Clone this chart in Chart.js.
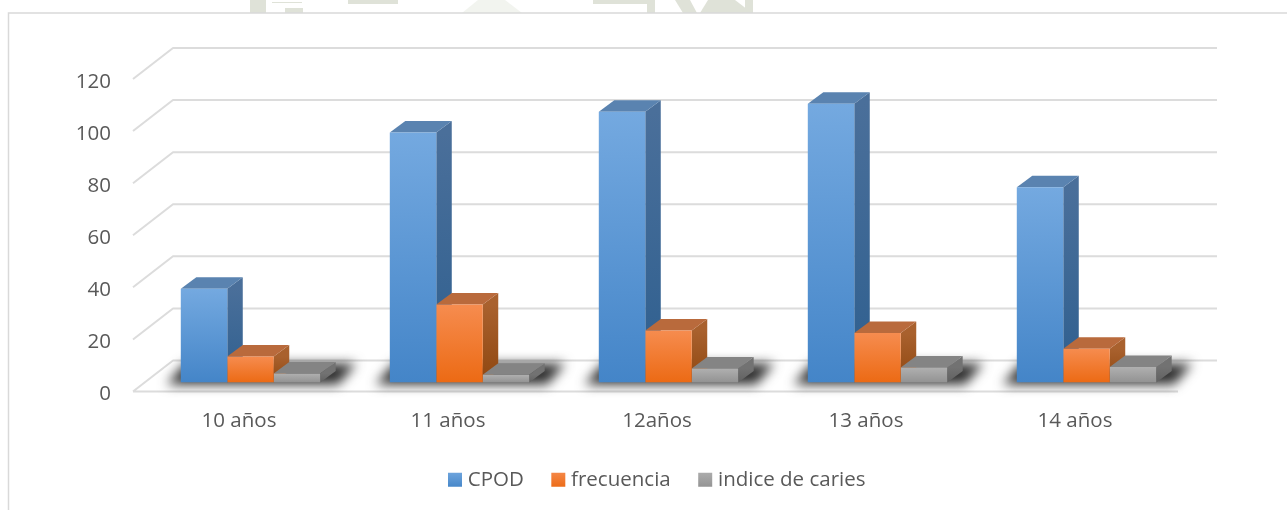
<!DOCTYPE html>
<html><head><meta charset="utf-8">
<script src="https://cdn.jsdelivr.net/npm/chart.js@4"></script>
<style>html,body{margin:0;padding:0;background:#fff}canvas{display:block;filter:blur(0.35px)}</style>
</head><body><canvas id="c" width="1287" height="510"></canvas>
<script>
const categories = ['10 años','11 años','12años','13 años','14 años'];
const cpod = [36,96,104,107,75];
const frecuencia = [10,30,20,19,13];
const indiceCaries = [3.5,3,5.4,5.8,6];
const yTicks = [0,20,40,60,80,100,120];
const seriesNames = ['CPOD','frecuencia','indice de caries'];
const FONT = {family:'"Open Sans"', size:20.5};
const TEXT = '#595959', GRID = '#dcdcdc';
const DX = 15.5, DY = -11.5;           // bar depth
const PALETTE = [
 {hi:'#74a9e0',lo:'#4485c8',top:'#5a83b0',sideHi:'#4a6f9a',sideLo:'#2e5f8f'},
 {hi:'#f68c4f',lo:'#ec6a14',top:'#b96a3c',sideHi:'#a9612e',sideLo:'#8f4710'},
 {hi:'#b0b0b0',lo:'#929292',top:'#848484',sideHi:'#727272',sideLo:'#606060'}
];
function frontFill(i){
  return c=>{
    const y=c.chart.scales&&c.chart.scales.y;
    if(!y||c.raw==null) return PALETTE[i].lo;
    const g=c.chart.ctx.createLinearGradient(0,y.getPixelForValue(c.raw),0,y.getPixelForValue(0));
    g.addColorStop(0,PALETTE[i].hi);g.addColorStop(1,PALETTE[i].lo);return g;
  };
}
const scene3d = {
  id:'scene3d',
  afterLayout(ch){ch.legend.left+=28.5;ch.legend.right+=28.5;},
  beforeDraw(ch){
    const {ctx,width,height}=ch;
    ctx.save();
    ctx.fillStyle='#fff';ctx.fillRect(0,0,width,height);
    // faint page watermark showing above the chart frame
    ctx.fillStyle='#dfe2d8';
    [[250,0,16,13],[272,2,30,1],[285,8,18,5],[348,0,50,4],[593,0,54,4],[647,0,8,13]].forEach(r=>ctx.fillRect(...r));
    ctx.beginPath();ctx.moveTo(675,0);ctx.lineTo(690,0);ctx.lineTo(697,13);ctx.lineTo(683,13);ctx.closePath();ctx.fill();
    ctx.beginPath();ctx.moveTo(700,13);ctx.lineTo(708,0);ctx.lineTo(735,0);ctx.lineTo(752,13);ctx.closePath();ctx.fill();
    ctx.fillRect(745,0,8,13);
    ctx.fillStyle='#f2f4ef';
    ctx.beginPath();ctx.moveTo(462,13);ctx.lineTo(478,0);ctx.lineTo(505,0);ctx.lineTo(522,13);ctx.closePath();ctx.fill();
    ctx.fillStyle='#fff';ctx.fillRect(8,13,width-8,height-13);
    ctx.strokeStyle='#d9d9d9';ctx.lineWidth=1.5;
    ctx.beginPath();ctx.moveTo(width,13);ctx.lineTo(8.5,13);ctx.lineTo(8.5,height);ctx.stroke();
    ctx.restore();
  },
  beforeDatasetsDraw(ch){
    const {ctx,scales:{x,y}}=ch;
    // wall and floor grid, from the value scale
    const fx0=133,fx1=1178,bx0=173,bx1=1217;
    ctx.save();
    ctx.strokeStyle=GRID;ctx.lineWidth=2;ctx.lineJoin='round';
    yTicks.forEach(v=>{
      const py=y.getPixelForValue(v);
      ctx.beginPath();ctx.moveTo(fx0,py+9);ctx.lineTo(bx0,py-22);ctx.lineTo(bx1,py-22);
      if(v===0){ctx.moveTo(fx0,py+9);ctx.lineTo(fx1,py+9);}
      ctx.stroke();
    });
    // floor shadow under each group
    const metas=[0,1,2].map(i=>ch.getDatasetMeta(i));
    ctx.filter='blur(6px)';
    ctx.fillStyle='#2e2e2e';
    categories.forEach((_,k)=>{
      const l=metas[0].data[k].x-metas[0].data[k].width/2;
      const r=metas[2].data[k].x+metas[2].data[k].width/2;
      const b=y.getPixelForValue(0);
      ctx.beginPath();ctx.moveTo(l-14,b+2);ctx.lineTo(l+4,b-19);ctx.lineTo(r+36,b-19);ctx.lineTo(r+18,b+2);ctx.closePath();ctx.fill();
    });
    ctx.filter='none';
    // depth faces; native fronts are painted over them afterwards
    metas.forEach((m,i)=>{
      const p=PALETTE[i];
      m.data.forEach(el=>{
        const l=el.x-el.width/2,r=el.x+el.width/2,t=el.y,b=el.base;
        const sg=ctx.createLinearGradient(0,t,0,b);
        sg.addColorStop(0,p.sideHi);sg.addColorStop(1,p.sideLo);
        ctx.fillStyle=sg;
        ctx.beginPath();ctx.moveTo(r,t);ctx.lineTo(r+DX,t+DY);ctx.lineTo(r+DX,b+DY);ctx.lineTo(r,b);ctx.closePath();ctx.fill();
        ctx.fillStyle=p.top;
        ctx.beginPath();ctx.moveTo(l,t);ctx.lineTo(l+DX,t+DY);ctx.lineTo(r+DX,t+DY);ctx.lineTo(r,t);ctx.closePath();ctx.fill();
      });
    });
    ctx.restore();
  }
};
const cv=document.getElementById('c');
const legendGrad=i=>{
  const g=cv.getContext('2d').createLinearGradient(0,470,0,488);
  g.addColorStop(0,PALETTE[i].hi);g.addColorStop(1,PALETTE[i].lo);return g;
};
new Chart(cv,{
  type:'bar',
  data:{labels:categories,datasets:[
    {label:seriesNames[0],data:cpod,backgroundColor:frontFill(0)},
    {label:seriesNames[1],data:frecuencia,backgroundColor:frontFill(1)},
    {label:seriesNames[2],data:indiceCaries,backgroundColor:frontFill(2)}
  ]},
  plugins:[scene3d],
  options:{
    responsive:false,animation:false,
    layout:{padding:{left:70,right:96,top:70,bottom:10}},
    datasets:{bar:{categoryPercentage:0.667,barPercentage:1}},
    scales:{
      x:{grid:{display:false},border:{display:false},
         ticks:{color:TEXT,font:FONT,labelOffset:-11.5,padding:18,maxRotation:0},
         afterFit(s){s.height=55;}},
      y:{min:0,max:120,grid:{display:false},border:{display:false},
         ticks:{color:TEXT,font:FONT,stepSize:20,padding:27,labelOffset:12},
         afterFit(s){s.width=76;}}
    },
    plugins:{
      title:{display:false},tooltip:{enabled:false},
      legend:{position:'bottom',labels:{
        font:FONT,color:TEXT,boxWidth:5,boxHeight:5,padding:32,
        generateLabels(){return seriesNames.map((n,i)=>({text:n,datasetIndex:i,fontColor:TEXT,fillStyle:legendGrad(i),strokeStyle:legendGrad(i),lineWidth:9,lineJoin:'miter',hidden:false}));}
      }}
    }
  }
});
</script></body></html>
